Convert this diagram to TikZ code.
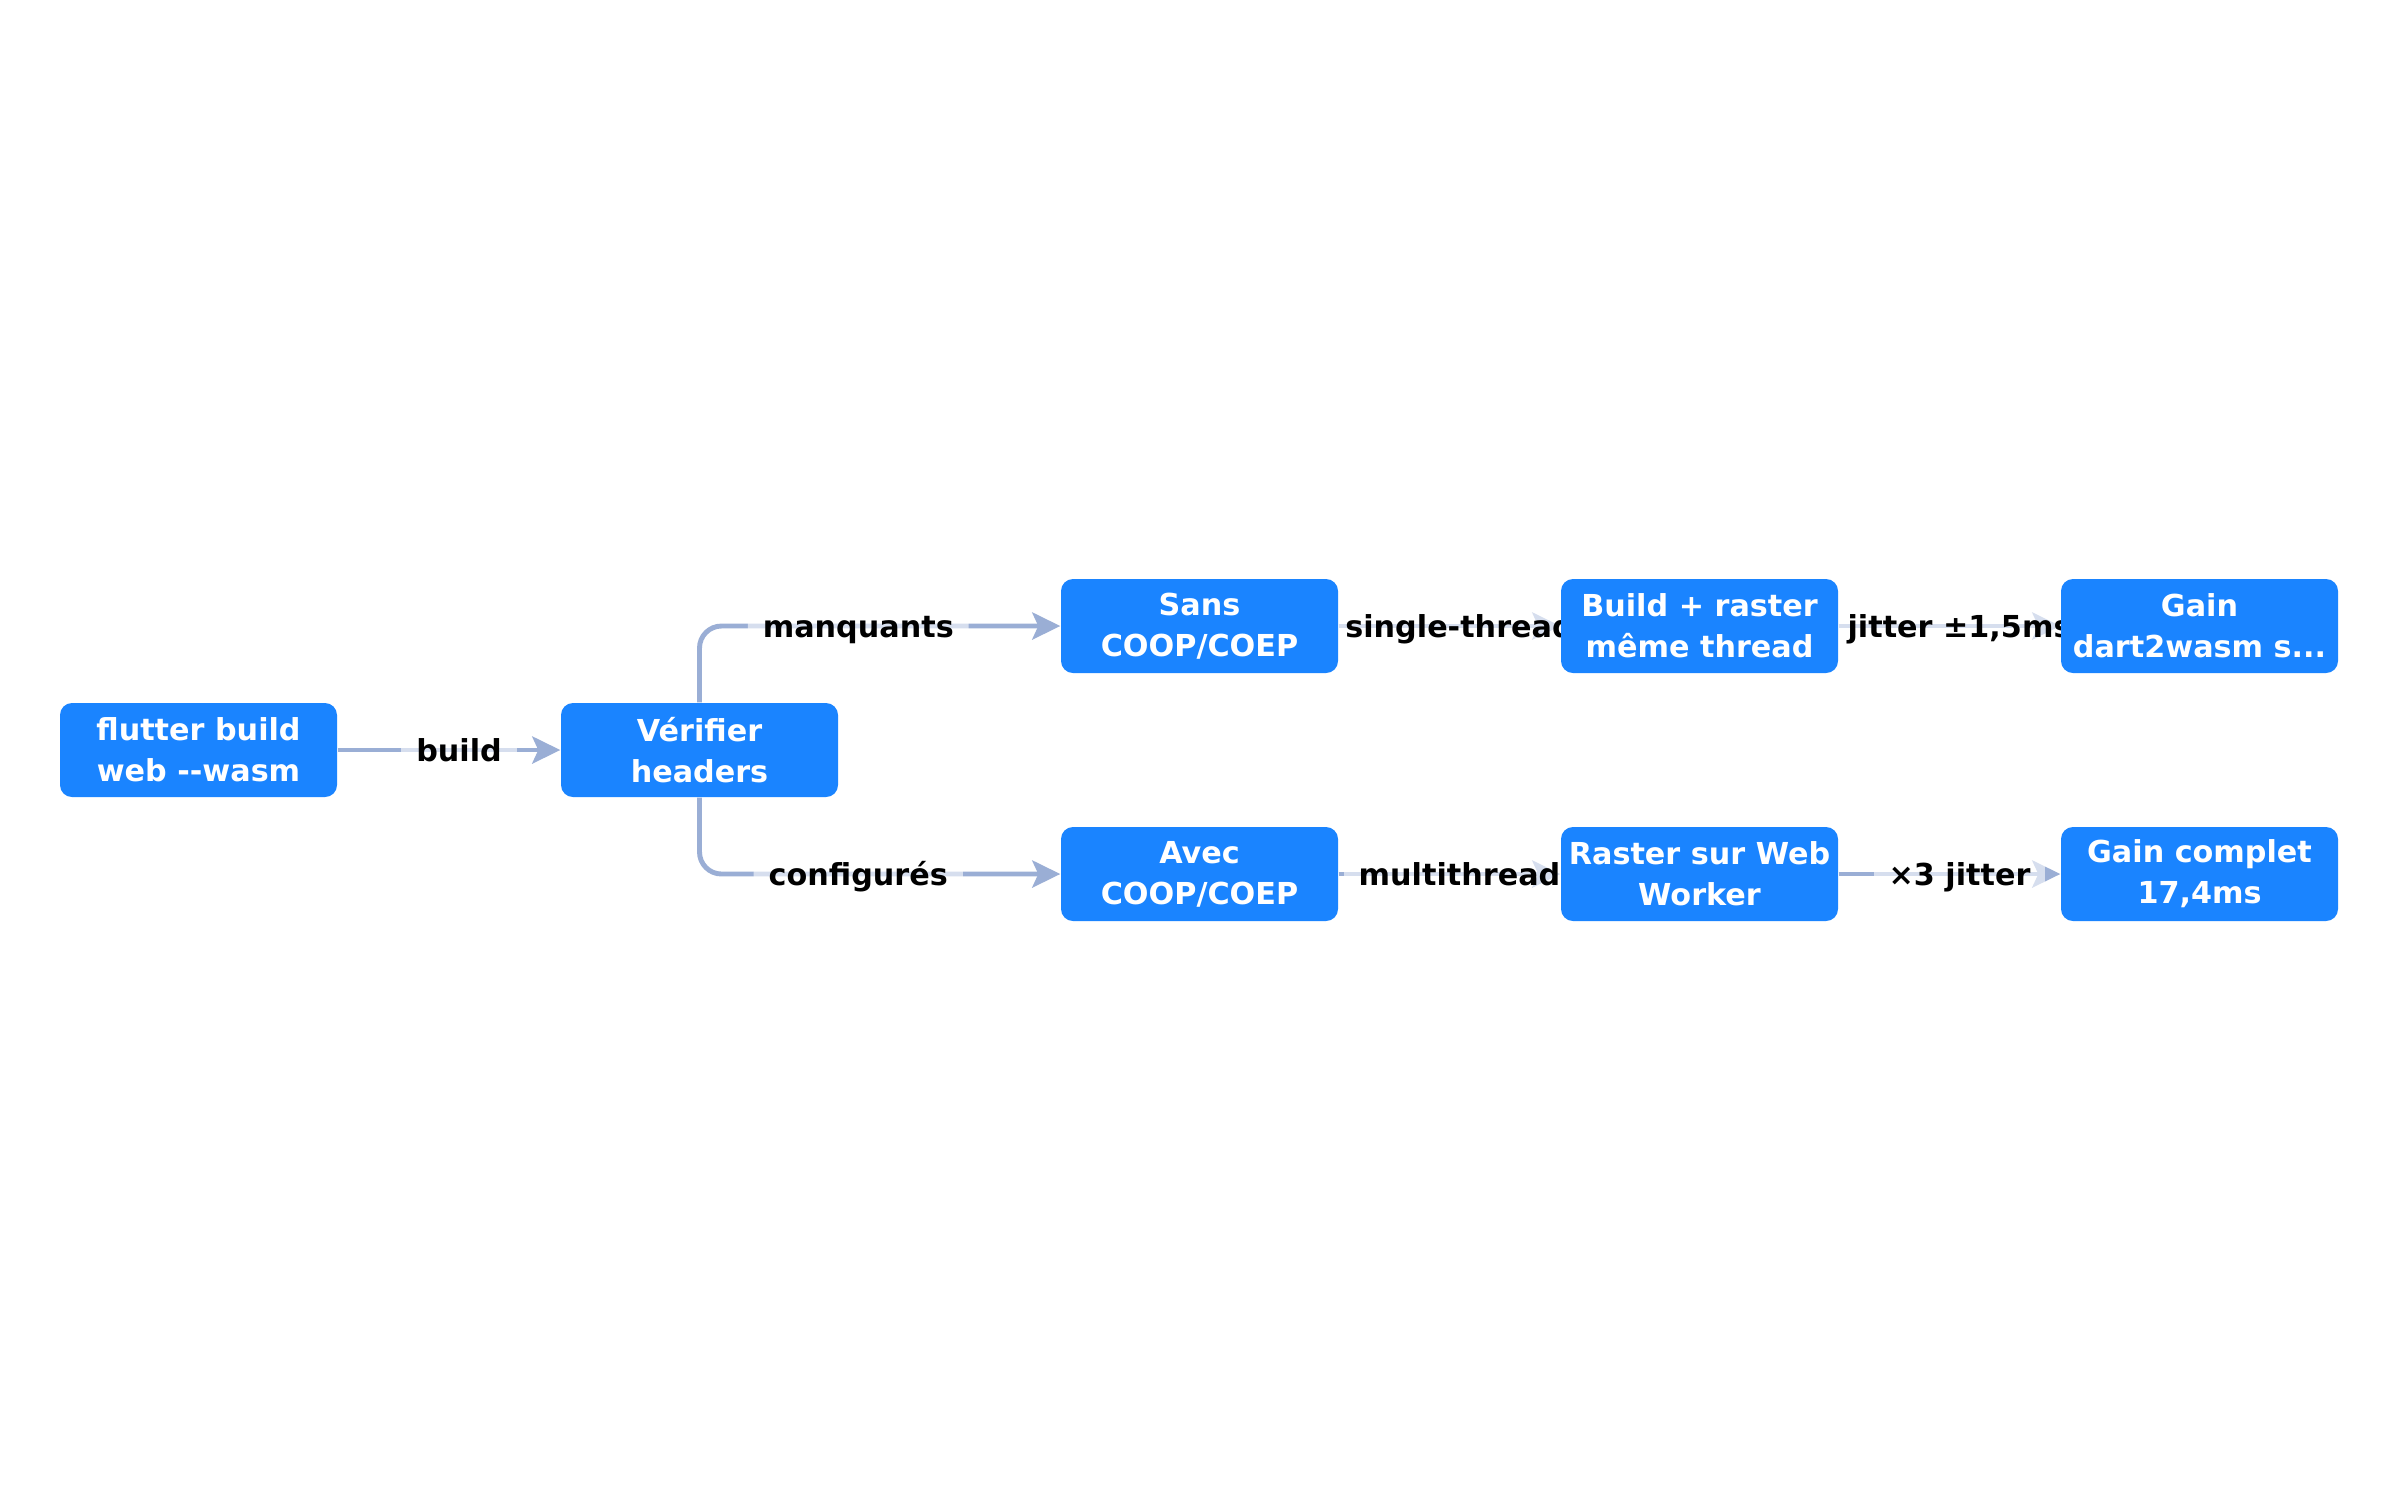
\documentclass[tikz,border=0pt]{standalone}
\usepackage{fontspec}
\setmainfont{DejaVu Sans}
\usetikzlibrary{arrows.meta,backgrounds}
\definecolor{boxblue}{RGB}{26,132,255}
\definecolor{edgeblue}{RGB}{154,174,213}
\begin{document}
\begin{tikzpicture}[line cap=round,line join=round,
	stepbox/.style={fill=boxblue,rounded corners=0.12cm,minimum width=2.77cm,minimum height=0.94cm,inner sep=0pt,align=center,text=white,font=\bfseries\fontsize{8.6}{11.6}\selectfont},
	flow/.style={draw=edgeblue,line width=1.4pt,-{Stealth[length=2.8mm,width=2.7mm,inset=0.6mm]}},
	lbl/.style={fill=white,fill opacity=0.6,text opacity=1,inner xsep=0.15cm,inner ysep=0.05cm,text height=0.3cm,text depth=0.08cm,font=\bfseries\fontsize{8.6}{11.4}\selectfont}]
	\useasboundingbox (0,0) rectangle (24,-15);
	\node[stepbox] (build) at (1.985,-7.5) {flutter build\\web {-}{-}wasm};
	\node[stepbox] (check) at (6.995,-7.5) {Vérifier\\headers};
	\node[stepbox] (sans) at (11.995,-6.26) {Sans\\COOP/COEP};
	\node[stepbox] (avec) at (11.995,-8.74) {Avec\\COOP/COEP};
	\node[stepbox] (same) at (16.995,-6.26) {Build + raster\\même thread};
	\node[stepbox] (worker) at (16.995,-8.74) {Raster sur Web\\Worker};
	\node[stepbox] (gainpart) at (21.995,-6.26) {Gain\\dart2wasm s...};
	\node[stepbox] (gainfull) at (21.995,-8.74) {Gain complet\\17,4ms};
	\begin{pgfonlayer}{background}
		\fill[white] (0,0) rectangle (24,-15);
		\draw[flow] (build) -- node[lbl,xshift=0.1cm]{build} (check);
		\draw[flow,rounded corners=0.22cm] (check) |- node[lbl,pos=0.72]{manquants} (sans);
		\draw[flow,rounded corners=0.22cm] (check) |- node[lbl,pos=0.72]{configurés} (avec);
		\draw[flow] (sans) -- node[lbl,xshift=0.1cm]{single-thread} (same);
		\draw[flow] (avec) -- node[lbl,xshift=0.1cm]{multithread} (worker);
		\draw[flow] (same) -- node[lbl,xshift=0.1cm]{jitter ±1,5ms} (gainpart);
		\draw[flow] (worker) -- node[lbl,xshift=0.1cm]{×3 jitter} (gainfull);
	\end{pgfonlayer}
\end{tikzpicture}
\end{document}
